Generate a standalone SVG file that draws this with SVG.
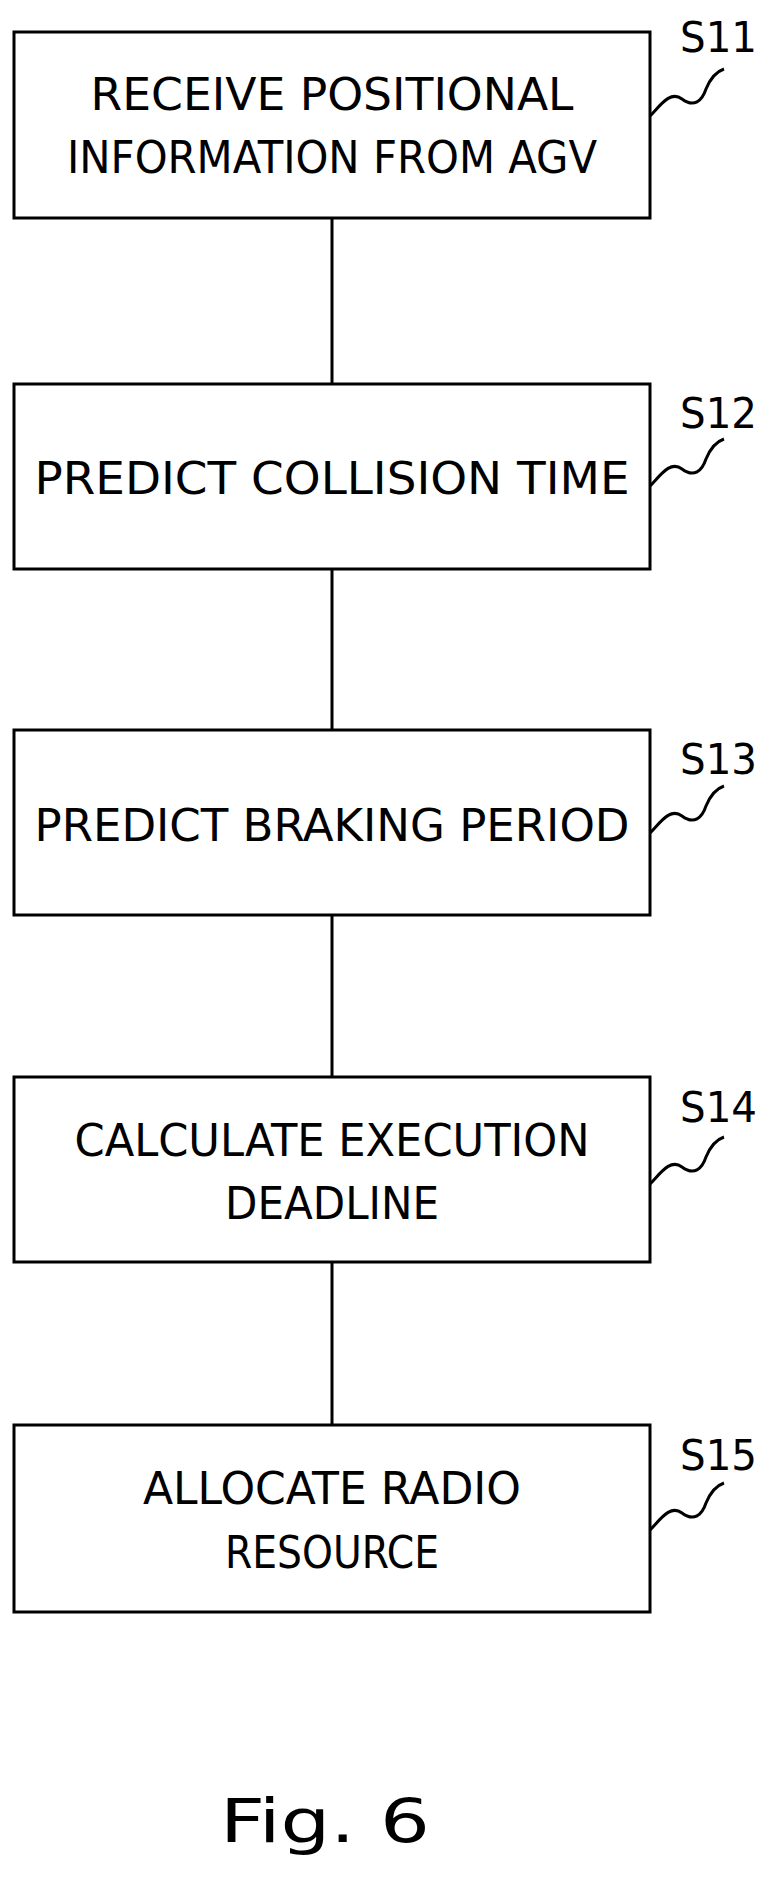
<svg xmlns="http://www.w3.org/2000/svg" width="775" height="1878" viewBox="0 0 775 1878">
<style>
.b{fill:#fff;stroke:#000;stroke-width:3}
.t{font-family:"DejaVu Sans Condensed","Liberation Sans",sans-serif;font-size:44px;fill:#000;text-anchor:middle}
.l{font-family:"DejaVu Sans Condensed","Liberation Sans",sans-serif;font-size:42px;fill:#000}
.c{stroke:#000;stroke-width:3;fill:none}
</style>
<defs><path id="sq" class="c" d="M0,0 c10,-10 20,-26 32,-17 c12,9 20,2 24,-10 c5,-12 12,-18 18,-20"/></defs>
<rect width="775" height="1878" fill="#fff"/>
<g id="connectors">
<line class="c" x1="332" y1="218" x2="332" y2="384"/>
<line class="c" x1="332" y1="569" x2="332" y2="730"/>
<line class="c" x1="332" y1="915" x2="332" y2="1077"/>
<line class="c" x1="332" y1="1262" x2="332" y2="1425"/>
</g>
<g id="s11"><rect class="b" x="14" y="32" width="636" height="186"/>
<text class="t" x="332" y="110" textLength="483" lengthAdjust="spacingAndGlyphs">RECEIVE POSITIONAL</text>
<text class="t" x="332" y="173" textLength="530" lengthAdjust="spacingAndGlyphs">INFORMATION FROM AGV</text>
<text class="l" x="680" y="52" textLength="77" lengthAdjust="spacingAndGlyphs">S11</text>
<use href="#sq" x="650" y="116"/></g>
<g id="s12"><rect class="b" x="14" y="384" width="636" height="185"/>
<text class="t" x="332" y="494" textLength="595" lengthAdjust="spacingAndGlyphs">PREDICT COLLISION TIME</text>
<text class="l" x="680" y="428" textLength="77" lengthAdjust="spacingAndGlyphs">S12</text>
<use href="#sq" x="650" y="486"/></g>
<g id="s13"><rect class="b" x="14" y="730" width="636" height="185"/>
<text class="t" x="332" y="841" textLength="595" lengthAdjust="spacingAndGlyphs">PREDICT BRAKING PERIOD</text>
<text class="l" x="680" y="774" textLength="77" lengthAdjust="spacingAndGlyphs">S13</text>
<use href="#sq" x="650" y="833"/></g>
<g id="s14"><rect class="b" x="14" y="1077" width="636" height="185"/>
<text class="t" x="332" y="1156" textLength="515" lengthAdjust="spacingAndGlyphs">CALCULATE EXECUTION</text>
<text class="t" x="332" y="1219" textLength="214" lengthAdjust="spacingAndGlyphs">DEADLINE</text>
<text class="l" x="680" y="1122" textLength="77" lengthAdjust="spacingAndGlyphs">S14</text>
<use href="#sq" x="650" y="1184"/></g>
<g id="s15"><rect class="b" x="14" y="1425" width="636" height="187"/>
<text class="t" x="332" y="1504" textLength="378" lengthAdjust="spacingAndGlyphs">ALLOCATE RADIO</text>
<text class="t" x="332" y="1568" textLength="214" lengthAdjust="spacingAndGlyphs">RESOURCE</text>
<text class="l" x="680" y="1470" textLength="77" lengthAdjust="spacingAndGlyphs">S15</text>
<use href="#sq" x="650" y="1530"/></g>
<text x="220" y="1842" font-family="DejaVu Sans Condensed, Liberation Sans, sans-serif" font-size="60" textLength="210" lengthAdjust="spacingAndGlyphs">Fig. 6</text>
</svg>
